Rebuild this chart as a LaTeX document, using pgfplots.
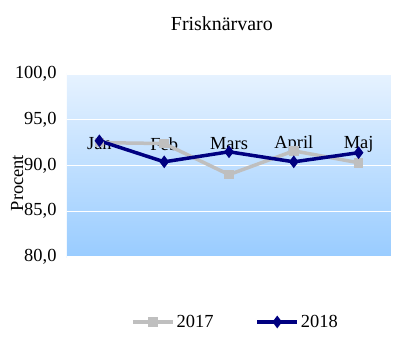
\documentclass[border=0pt]{standalone}
\usepackage{fontspec}
\setmainfont{Liberation Serif}
\usepackage{pgfplots}
\pgfplotsset{compat=1.18}
\definecolor{c2017}{RGB}{191,191,191}
\definecolor{c2018}{RGB}{0,0,128}
\definecolor{bgtop}{RGB}{230,242,255}
\definecolor{bgbot}{RGB}{153,204,255}
\begin{document}
\begin{tikzpicture}
\path[use as bounding box] (-67bp,-97bp) rectangle (351bp,257bp);
\begin{axis}[
  at={(0,0)}, anchor=south west,
  scale only axis, width=324bp, height=183bp,
  font=\fontsize{18.5}{21}\selectfont,
  xmin=-0.5, xmax=4.5, ymin=80, ymax=100,
  xtick={0,1,2,3,4},
  xticklabels={Jan,Feb,Mars,April,Maj},
  ytick={80,85,90,95,100},
  axis line style={draw=none},
  major tick length=0pt,
  ymajorgrids, major grid style={white, line width=1.2bp},
  axis background/.style={shade, top color=bgtop, bottom color=bgbot},
  /pgf/number format/.cd, fixed, fixed zerofill, precision=1, use comma, assume math mode=true,
  /pgfplots/.cd,
  y tick label style={xshift=-7bp},
  x tick label style={anchor=center, yshift=113bp},
  title={Frisknärvaro},
  title style={at={(axis description cs:0.478,1.24)}, anchor=center, font=\fontsize{20}{23}\selectfont},
  ylabel={Procent},
  every axis y label/.style={at={(axis description cs:-0.154,0.404)}, rotate=90, anchor=center},
  legend columns=2,
  legend style={at={(axis description cs:0.52,-0.355)}, anchor=center, draw=none, fill=none,
    /tikz/every even column/.append style={column sep=40bp}},
  legend image code/.code={\draw[mark repeat=2,mark phase=2] plot coordinates {(0bp,0bp)(20bp,0bp)(40bp,0bp)};},
]
\addplot[color=c2017, line width=3.5bp, mark=square*, mark size=3bp, mark options={solid}]
  coordinates {(0,92.5) (1,92.4) (2,89.0) (3,91.6) (4,90.3)};
\addlegendentry{2017}
\addplot[color=c2018, line width=3.5bp, mark=diamond*, mark size=3.5bp, mark options={solid}]
  coordinates {(0,92.7) (1,90.4) (2,91.5) (3,90.4) (4,91.4)};
\addlegendentry{2018}
\end{axis}
\end{tikzpicture}
\end{document}
